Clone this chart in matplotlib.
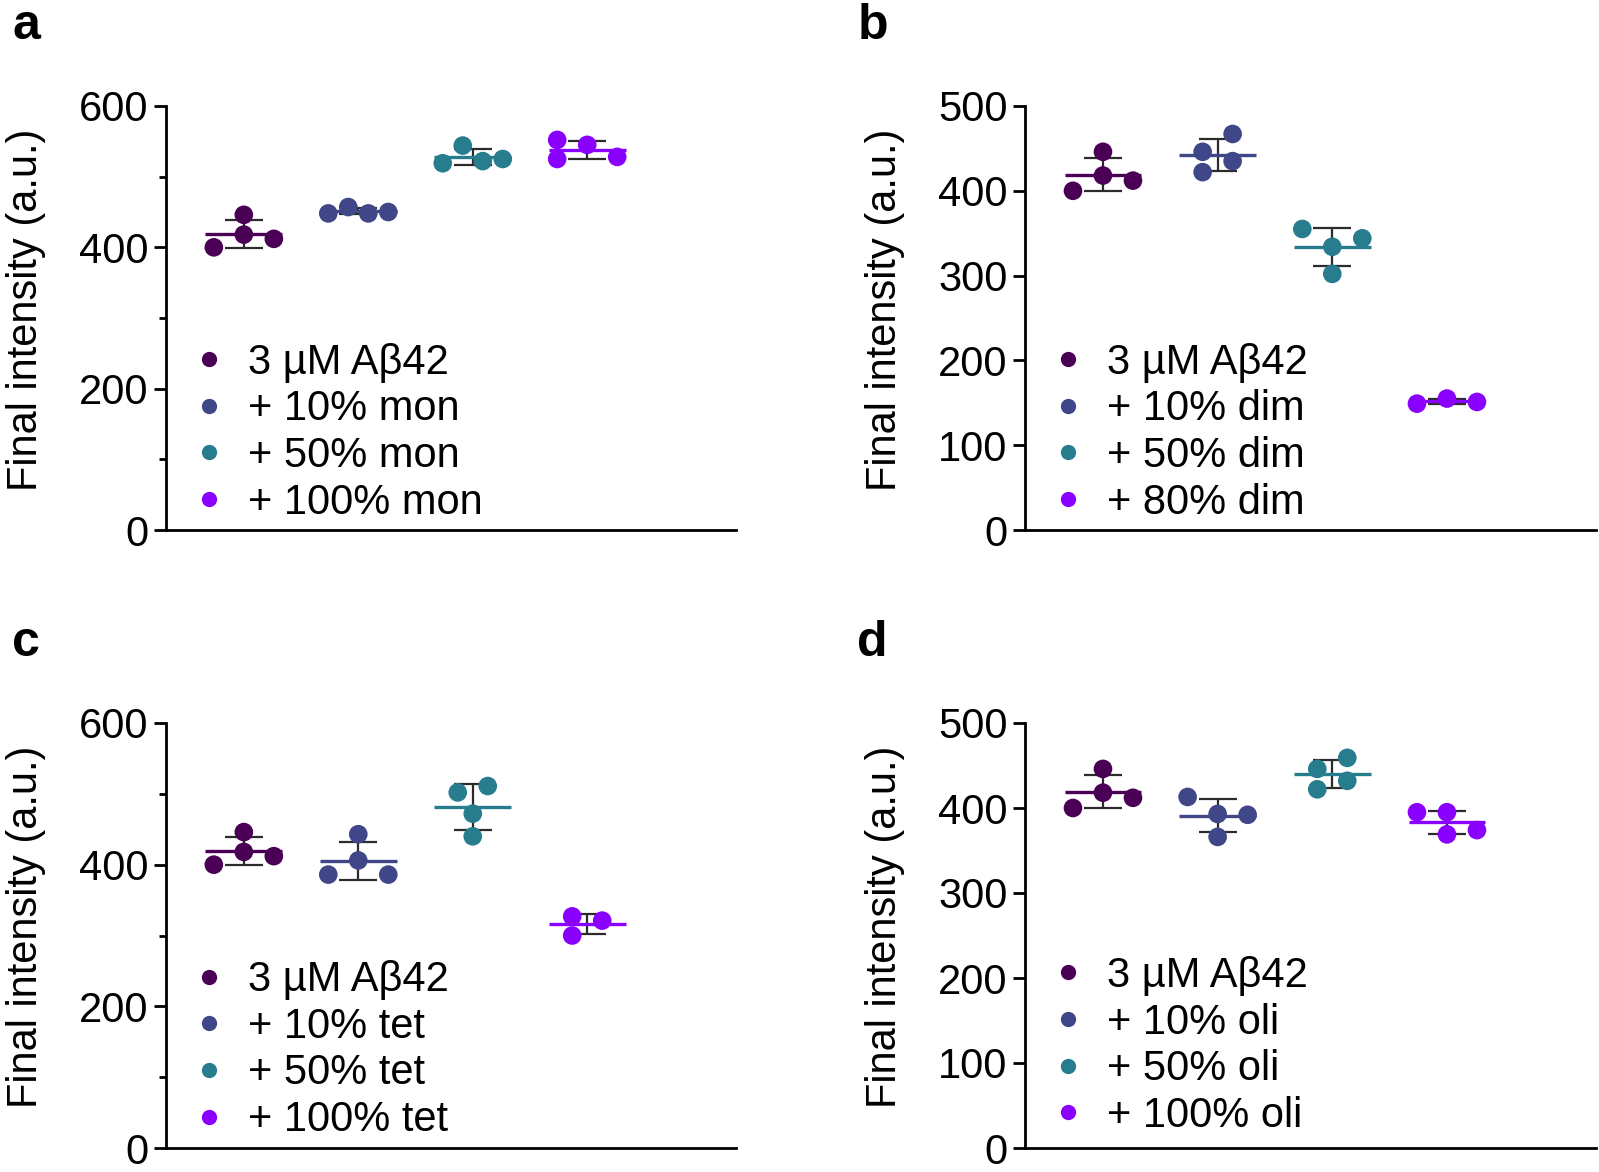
import numpy as np
import matplotlib
matplotlib.use("Agg")
import matplotlib.pyplot as plt
from matplotlib.lines import Line2D

plt.rcParams['font.family'] = ['Liberation Sans', 'DejaVu Sans']

# ---------------- data ----------------
control = [418, 412, 400, 446]          # 3 µM Aβ42 (same in every panel)

a_mon10 = [457, 448, 448, 450]
a_mon50 = [544, 522, 519, 525]
a_mon100 = [545, 528, 552, 525]

b_dim10 = [446, 435, 422, 467]
b_dim50 = [334, 344, 355, 302]
b_dim80 = [155, 151, 149]

c_tet10 = [406, 386, 386, 443]
c_tet50 = [472, 502, 511, 440]
c_tet100 = [327, 321, 300]

d_oli10 = [393, 392, 413, 366]
d_oli50 = [446, 432, 459, 422]
d_oli100 = [395, 374, 395, 369]

labels_a = ['3 µM Aβ42', '+ 10% mon', '+ 50% mon', '+ 100% mon']
labels_b = ['3 µM Aβ42', '+ 10% dim', '+ 50% dim', '+ 80% dim']
labels_c = ['3 µM Aβ42', '+ 10% tet', '+ 50% tet', '+ 100% tet']
labels_d = ['3 µM Aβ42', '+ 10% oli', '+ 50% oli', '+ 100% oli']

panel_letters = ['a', 'b', 'c', 'd']
y_max = [600, 500, 600, 500]
y_major = [[0, 200, 400, 600], [0, 100, 200, 300, 400, 500],
           [0, 200, 400, 600], [0, 100, 200, 300, 400, 500]]
y_minor = [[100, 300, 500], [], [100, 300, 500], []]
ylabel = 'Final intensity (a.u.)'

colors = ['#4a0055', '#3f4788', '#277d8e', '#8a00ff']

panels = [
    ([control, a_mon10, a_mon50, a_mon100], labels_a),
    ([control, b_dim10, b_dim50, b_dim80], labels_b),
    ([control, c_tet10, c_tet50, c_tet100], labels_c),
    ([control, d_oli10, d_oli50, d_oli100], labels_d),
]

# ---------------- layout ----------------
W, H = 1599, 1172
fig = plt.figure(figsize=(W / 100, H / 100), dpi=100)

axes_px = [  # left, right, top, bottom in pixels
    (166, 736, 106, 530),
    (1025, 1596, 106, 530),
    (166, 736, 723, 1148),
    (1025, 1596, 723, 1148),
]
legend_top = [0.442, 0.442, 0.442, 0.452]
letter_px = [(12, 39), (858, 39), (12, 656), (857, 656)]

FS = 30
D_PX = 18.5       # collision distance between dots (pixels)
MAX_STEP = 30     # horizontal step between dot columns (pixels)
SPAN = 60         # maximum column spread (pixels)


def swarm_offsets(ax, vals):
    p0 = ax.transData.transform((0, 0))
    p1 = ax.transData.transform((1, 1))
    px_x, px_y = p1[0] - p0[0], p1[1] - p0[1]
    D = D_PX / px_y
    seq = [0, 1, -1, 2, -2, 3, -3]
    slots = []
    for i, v in enumerate(vals):
        for s in seq:
            if all(not (slots[j] == s and abs(vals[j] - v) < D) for j in range(i)):
                slots.append(s)
                break
    n = len(vals)
    parent = list(range(n))

    def find(k):
        while parent[k] != k:
            k = parent[k]
        return k
    for i in range(n):
        for j in range(i + 1, n):
            if abs(vals[i] - vals[j]) < D:
                parent[find(i)] = find(j)
    offs = np.zeros(n)
    comps = {}
    for i in range(n):
        comps.setdefault(find(i), []).append(i)
    for members in comps.values():
        ss = [slots[m] for m in members]
        lo, hi = min(ss), max(ss)
        ncol = hi - lo + 1
        step = 0 if ncol == 1 else min(MAX_STEP, SPAN / (ncol - 1))
        c = (lo + hi) / 2
        for m in members:
            offs[m] = (slots[m] - c) * step / px_x
    return offs


for k, (groups, labels) in enumerate(panels):
    l, r, t, b = axes_px[k]
    ax = fig.add_axes([l / W, 1 - b / H, (r - l) / W, (b - t) / H])
    ax.set_xlim(-0.68, 4.3)
    ax.set_ylim(0, y_max[k])
    for sp in ['top', 'right']:
        ax.spines[sp].set_visible(False)
    for sp in ['left', 'bottom']:
        ax.spines[sp].set_linewidth(2.0)
    ax.set_xticks([])
    ax.set_yticks(y_major[k])
    ax.set_yticks(y_minor[k], minor=True)
    ax.tick_params(axis='y', which='major', length=8.5, width=2.0, labelsize=FS, pad=4)
    ax.tick_params(axis='y', which='minor', length=5, width=2.0)
    ax.set_ylabel(ylabel, fontsize=FS)
    ax.yaxis.set_label_coords(-0.21, 0.52)

    for g, vals in enumerate(groups):
        vals = np.asarray(vals, dtype=float)
        m = vals.mean()
        sd = vals.std(ddof=1)
        ax.errorbar(g, m, yerr=sd, fmt='none', ecolor='#2b2b2b', elinewidth=1.6,
                    capsize=14, capthick=1.6, zorder=2, clip_on=False)
        offs = swarm_offsets(ax, list(vals))
        ax.scatter(g + offs, vals, s=180, color=colors[g], edgecolors='none',
                   zorder=3, clip_on=False)
        ax.hlines(m, g - 0.335, g + 0.335, color=colors[g], lw=2.4, zorder=4)

    handles = [Line2D([], [], marker='o', linestyle='none', markersize=11,
                      markerfacecolor=c, markeredgecolor='none') for c in colors]
    ax.legend(handles, labels, loc='upper left', bbox_to_anchor=(0.046, legend_top[k]),
              frameon=False, fontsize=FS, handlelength=0.8, handletextpad=0.535,
              labelspacing=0.16, borderpad=0, borderaxespad=0)

    lx, ly = letter_px[k]
    fig.text(lx / W, 1 - ly / H, panel_letters[k], fontsize=36, fontweight='bold',
             ha='left', va='baseline')

fig.savefig('out.png', dpi=100)
